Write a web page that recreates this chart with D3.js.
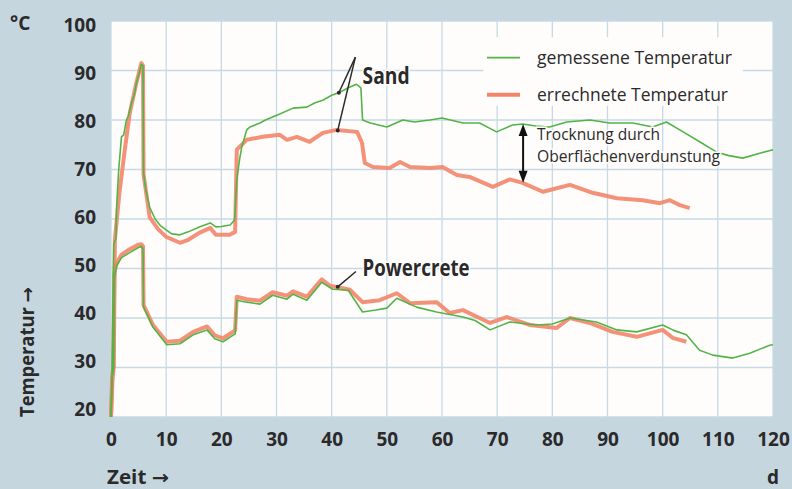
<!DOCTYPE html>
<html>
<head>
<meta charset="utf-8">
<script src="https://cdn.jsdelivr.net/npm/d3@7"></script>
<style>
  html, body { margin: 0; padding: 0; background: #c6d6df; }
  svg { display: block; }
  text { fill: #2a2a2b; font-family: "Open Sans", sans-serif; }
  .tick text { font-weight: bold; font-size: 19px; }
  .bold { font-weight: bold; }
  .pfeil { font-family: "DejaVu Sans", sans-serif; }
</style>
</head>
<body>
<svg id="chart" width="792" height="489"></svg>
<script>
// Zeit (d) und Temperatur (°C)
var sandMessT = [0, 0.2, 0.5, 0.9, 1.0, 1.4, 1.9, 2.3, 2.8, 3.2, 3.7, 4.2, 4.6, 5.0, 5.5, 5.8, 5.9, 6.3, 7, 8, 9, 10, 11, 12.5, 14, 16, 18, 19, 20, 21.6, 22.4, 22.8, 23.3, 23.7, 24.6, 25.2, 27, 28, 30.6, 33, 35.5, 37, 38.4, 40, 41.5, 43, 44.5, 45.3, 45.6, 47, 50, 52.9, 55, 57.8, 60, 63.8, 66.8, 69.9, 72.8, 74.6, 77, 79.5, 82.6, 86.8, 90.4, 94.6, 98.2, 100.7, 103.1, 106.7, 109.8, 112, 114.5, 117.6, 120];
var sandMessV = [20, 29, 55, 56, 62, 70, 76.6, 77, 80, 81, 83.4, 85, 87.5, 89, 91.2, 91, 69.3, 66, 62.4, 60, 58.6, 57.8, 57, 56.8, 57.4, 58.4, 59.2, 58.4, 58.5, 58.8, 59.8, 67.9, 72, 74.5, 78, 78.6, 79.4, 80, 81.2, 82.4, 82.6, 83.5, 84, 85, 85.6, 86.5, 87.2, 86.5, 80, 79.4, 78.6, 80, 79.6, 80, 80.4, 79.4, 79.4, 77.6, 79, 79.2, 78.8, 78.6, 79.6, 80, 79.4, 79.4, 78.6, 79.6, 78, 75.6, 73.5, 72.8, 72.3, 73.3, 74];

var sandRechT = [0, 0.3, 0.5, 0.7, 1.5, 2.5, 3.4, 4.6, 5.5, 5.8, 5.9, 7, 8.5, 10, 12.5, 14, 16, 18, 19, 21.5, 22.5, 22.8, 24.6, 27.5, 30.6, 31.9, 33.7, 36, 38.4, 40.9, 44.6, 45.5, 46, 47.5, 50.5, 52.4, 54.2, 57.8, 60.1, 62.7, 65, 69.2, 72.3, 74.6, 78.3, 83.2, 87.3, 91.7, 96.4, 99.5, 101.3, 103.1, 104.9];
var sandRechV = [20, 28, 30, 55.8, 65, 74, 81.4, 87.5, 91.5, 91, 69, 60.4, 58, 56.4, 55.2, 55.8, 57.2, 58.2, 56.8, 56.8, 57.4, 74, 76, 76.6, 77, 76, 76.6, 75.6, 77.4, 78, 77.6, 75.4, 71.3, 70.5, 70.3, 71.5, 70.5, 70.3, 70.5, 68.9, 68.5, 66.5, 68, 67.3, 65.5, 66.9, 65.3, 64.2, 63.8, 63.2, 63.8, 62.8, 62.2];

var pcMessT = [0, 0.2, 0.5, 0.6, 1, 1.9, 3.4, 4.9, 5.5, 5.8, 5.9, 7.6, 10.1, 12.5, 14.9, 17.4, 18.8, 20.3, 22.5, 22.8, 24.6, 27, 29.3, 31.9, 33, 35.5, 38.2, 40.2, 43, 45.6, 48, 50, 51.8, 55.4, 59, 63.8, 66, 68.7, 72.3, 77.2, 80, 83.2, 88, 91.7, 95.3, 100, 102, 104.3, 106.7, 109.1, 112.7, 115.8, 119.4, 120];
var pcMessV = [20, 28, 30, 48, 50.5, 52.2, 53.2, 54.2, 54.5, 54, 42.2, 38.2, 34.6, 34.8, 36.6, 37.6, 35.8, 35.2, 36.8, 43.6, 43.2, 42.8, 44.6, 43.8, 44.8, 43.6, 47.2, 45.8, 45.6, 41.2, 41.6, 42, 44, 42.2, 41.2, 40.2, 39.5, 37.6, 39.2, 38.6, 38.8, 40, 39.2, 37.6, 37.2, 38.6, 37.5, 36.6, 33.5, 32.5, 31.9, 32.9, 34.5, 34.6];

var pcRechT = [0, 0.2, 0.4, 0.6, 1, 1.9, 3.4, 4.9, 5.5, 5.8, 5.9, 7.6, 10.1, 12.5, 14.9, 17.4, 18.8, 20.3, 22.5, 22.8, 24.6, 27, 29.3, 31.9, 33, 35.5, 38.2, 39.7, 43.3, 45.6, 48.7, 51.8, 54.2, 59, 61.4, 63.8, 68.7, 71.7, 75.9, 80.8, 83.2, 86.8, 90.9, 95.3, 100, 101.8, 104.3];
var pcRechV = [20, 28, 30, 49, 51, 52.8, 53.9, 54.8, 54.9, 54.5, 42.6, 38.6, 35.2, 35.4, 37.2, 38.3, 36.5, 35.9, 37.5, 44.3, 43.8, 43.5, 45.2, 44.5, 45.4, 44.3, 47.8, 46.5, 45.7, 43.2, 43.6, 45, 43, 43.2, 41, 41.6, 39, 40.2, 38.6, 38, 40, 39, 37.2, 36.2, 37.6, 36, 35.2];

var xTicks = [0, 10, 20, 30, 40, 50, 60, 70, 80, 90, 100, 110, 120];
var yTicks = [20, 30, 40, 50, 60, 70, 80, 90, 100];
var legendLabels = ["gemessene Temperatur", "errechnete Temperatur"];

var farbeMess = "#52b447";
var farbeRech = "#f3866a";

var svg = d3.select("#chart");

var x = d3.scaleLinear().domain([0, 120]).range([111, 773]);
var y = d3.scaleLinear().domain([20, 100]).range([417, 21]);
// die Beschriftung sitzt in der Vorlage etwas enger als das Gitter
var yLabel = d3.scaleLinear().domain([20, 100]).range([409, 25]);

// Zeichenfläche
svg.append("rect")
    .attr("x", x(0)).attr("y", y(100))
    .attr("width", x(120) - x(0)).attr("height", y(20) - y(100))
    .attr("fill", "#fffdfc");

// Gitter
svg.append("g").selectAll("line").data(xTicks).enter().append("line")
    .attr("x1", function (d) { return x(d); }).attr("x2", function (d) { return x(d); })
    .attr("y1", y(100)).attr("y2", y(20))
    .attr("stroke", "#c5dae6").attr("stroke-width", 1.3);
svg.append("g").selectAll("line").data(yTicks).enter().append("line")
    .attr("y1", function (d) { return y(d); }).attr("y2", function (d) { return y(d); })
    .attr("x1", x(0)).attr("x2", x(120))
    .attr("stroke", "#c5dae6").attr("stroke-width", 1.3);

// Achsen (nur Beschriftung)
svg.append("g")
    .attr("transform", "translate(0," + y(20) + ")")
    .call(d3.axisBottom(x).tickValues(xTicks).tickSize(0).tickPadding(16).tickFormat(d3.format("d")));
svg.append("g")
    .attr("transform", "translate(" + x(0) + ",0)")
    .call(d3.axisLeft(yLabel).tickValues(yTicks).tickSize(0).tickPadding(15).tickFormat(d3.format("d")));
svg.selectAll(".domain").remove();
svg.selectAll(".tick text").attr("fill", "#2a2a2b");

// Legende mit weißem Feld
svg.append("rect")
    .attr("x", x(67.5)).attr("y", y(96.7))
    .attr("width", x(114.5) - x(67.5)).attr("height", y(82.9) - y(96.7))
    .attr("fill", "#fffdfc");

function zeile(T, V) {
    return T.map(function (t, i) { return [t, V[i]]; });
}

var linie = d3.line()
    .x(function (d) { return x(d[0]); })
    .y(function (d) { return y(d[1]); });

// errechnete Werte (dick) zuerst, gemessene darüber
[zeile(sandRechT, sandRechV), zeile(pcRechT, pcRechV)].forEach(function (daten) {
    svg.append("path").datum(daten)
        .attr("d", linie)
        .attr("fill", "none")
        .attr("stroke", farbeRech)
        .attr("stroke-width", 4)
        .attr("stroke-linejoin", "round")
        .attr("opacity", 0.9);
});
[zeile(sandMessT, sandMessV), zeile(pcMessT, pcMessV)].forEach(function (daten) {
    svg.append("path").datum(daten)
        .attr("d", linie)
        .attr("fill", "none")
        .attr("stroke", farbeMess)
        .attr("stroke-width", 1.6)
        .attr("stroke-linejoin", "round");
});

// Legende
var leg = svg.append("g");
var legBreite = [195, 191];
legendLabels.forEach(function (lab, i) {
    var ly = i === 0 ? y(92.6) : y(85.1);
    leg.append("line")
        .attr("x1", 487).attr("x2", 520).attr("y1", ly).attr("y2", ly)
        .attr("stroke", i === 0 ? farbeMess : farbeRech)
        .attr("stroke-width", i === 0 ? 1.6 : 4);
    leg.append("text")
        .attr("x", 537).attr("y", ly).attr("dy", "0.35em")
        .attr("font-size", "19px")
        .attr("textLength", legBreite[i]).attr("lengthAdjust", "spacingAndGlyphs")
        .text(lab);
});

// Beschriftungen Sand / Powercrete
function zeiger(von, nach) {
    svg.append("line")
        .attr("x1", x(von[0])).attr("y1", y(von[1]))
        .attr("x2", x(nach[0])).attr("y2", y(nach[1]))
        .attr("stroke", "#2a2a2b").attr("stroke-width", 1.5);
    svg.append("circle")
        .attr("cx", x(nach[0])).attr("cy", y(nach[1])).attr("r", 2)
        .attr("fill", "#2a2a2b");
}
zeiger([44.3, 92.7], [41.3, 85.5]);
zeiger([44.3, 92.7], [41.1, 77.9]);
zeiger([44.4, 49.4], [41.1, 46.3]);

svg.append("text").attr("class", "bold")
    .attr("x", x(45.6)).attr("y", y(87.3))
    .attr("font-size", "23px")
    .attr("textLength", 47).attr("lengthAdjust", "spacingAndGlyphs")
    .attr("stroke", "#fffdfc").attr("stroke-width", 3).attr("paint-order", "stroke")
    .text("Sand");
svg.append("text").attr("class", "bold")
    .attr("x", x(45.6)).attr("y", y(48.4))
    .attr("font-size", "23px")
    .attr("textLength", 107).attr("lengthAdjust", "spacingAndGlyphs")
    .attr("stroke", "#fffdfc").attr("stroke-width", 3).attr("paint-order", "stroke")
    .text("Powercrete");

// Doppelpfeil Trocknung
var pfeilT = 74.7, pfeilOben = 79.2, pfeilUnten = 67.3;
svg.append("line")
    .attr("x1", x(pfeilT)).attr("x2", x(pfeilT))
    .attr("y1", y(pfeilOben) + 8).attr("y2", y(pfeilUnten) - 8)
    .attr("stroke", "#111").attr("stroke-width", 2);
svg.append("path")
    .attr("d", "M" + x(pfeilT) + "," + y(pfeilOben) + " l-4.5,12 l9,0 Z")
    .attr("fill", "#111");
svg.append("path")
    .attr("d", "M" + x(pfeilT) + "," + y(pfeilUnten) + " l-4.5,-12 l9,0 Z")
    .attr("fill", "#111");

var tr = svg.append("text")
    .attr("x", 537).attr("y", y(76))
    .attr("font-size", "17px")
    .attr("stroke", "#fffdfc").attr("stroke-width", 3).attr("paint-order", "stroke");
tr.append("tspan").attr("x", 537)
    .attr("textLength", 123).attr("lengthAdjust", "spacingAndGlyphs")
    .text("Trocknung durch");
tr.append("tspan").attr("x", 537).attr("dy", 22)
    .attr("textLength", 183).attr("lengthAdjust", "spacingAndGlyphs")
    .text("Oberflächenverdunstung");

// Achsentitel
svg.append("text").attr("class", "bold")
    .attr("x", 10).attr("y", 30).attr("font-size", "19px").text("°C");
var zeit = svg.append("text").attr("class", "bold")
    .attr("x", 107).attr("y", 484).attr("font-size", "19px")
    .attr("textLength", 62).attr("lengthAdjust", "spacingAndGlyphs");
zeit.append("tspan").text("Zeit ");
zeit.append("tspan").attr("class", "pfeil").text("→");
svg.append("text").attr("class", "bold")
    .attr("x", x(120)).attr("y", 484).attr("text-anchor", "middle").attr("font-size", "19px").text("d");
var temp = svg.append("text").attr("class", "bold")
    .attr("transform", "translate(34," + 417 + ") rotate(-90)")
    .attr("font-size", "19px")
    .attr("textLength", 130).attr("lengthAdjust", "spacingAndGlyphs");
temp.append("tspan").text("Temperatur ");
temp.append("tspan").attr("class", "pfeil").text("→");
</script>
</body>
</html>
